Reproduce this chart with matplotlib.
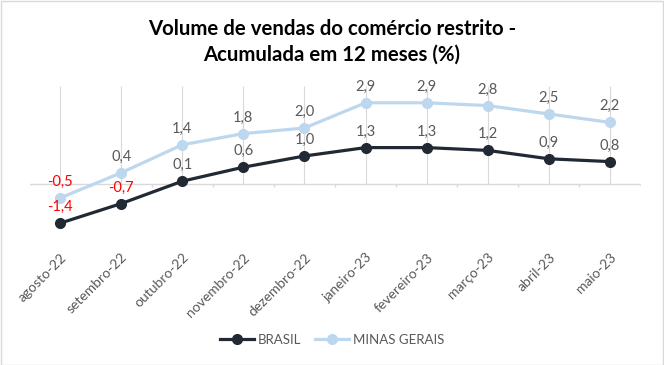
import numpy as np
import matplotlib
matplotlib.use("Agg")
import matplotlib.pyplot as plt
from matplotlib.patches import Rectangle

# dados
meses = ["agosto-22", "setembro-22", "outubro-22", "novembro-22", "dezembro-22",
         "janeiro-23", "fevereiro-23", "março-23", "abril-23", "maio-23"]
brasil = [-1.4, -0.7, 0.1, 0.6, 1.0, 1.3, 1.3, 1.2, 0.9, 0.8]
minas = [-0.5, 0.4, 1.4, 1.8, 2.0, 2.9, 2.9, 2.8, 2.5, 2.2]

plt.rcParams['font.family'] = ['Lato', 'DejaVu Sans']

c_br = "#212934"
c_mg = "#bdd7ee"
c_txt = "#595959"
c_grid = "#d9d9d9"

fig = plt.figure(figsize=(6.64, 3.65), dpi=100)
ax = fig.add_axes([29.5 / 664, 1 - 240 / 365, 611 / 664, 154 / 365])
x = np.arange(len(meses))

ax.set_xlim(-0.5, len(meses) - 0.5)
ax.set_ylim(-2.0, 3.5)

# grade vertical e eixo zero
ax.vlines(x, 0, 3.5, color=c_grid, lw=0.8, zorder=0)
ax.axhline(0, color=c_grid, lw=1.0, zorder=0)
ax.vlines(np.arange(len(meses) + 1) - 0.5, -0.1, 0, color=c_grid, lw=1.0, zorder=0)

ax.plot(x, brasil, color=c_br, lw=2.3, marker="o", ms=7, label="BRASIL", zorder=3)
ax.plot(x, minas, color=c_mg, lw=2.3, marker="o", ms=7, label="MINAS GERAIS", zorder=2)

def rotulos(vals):
    for i, v in enumerate(vals):
        cor = "#ff0000" if v < 0 else c_txt
        txt = "{:.1f}".format(v).replace(".", ",")
        ax.annotate(txt, (i, v), xytext=(0, 6.5), textcoords="offset points",
                    ha="center", va="bottom", fontsize=10.5, color=cor)

rotulos(brasil)
rotulos(minas)

for s in ax.spines.values():
    s.set_visible(False)
ax.set_yticks([])
ax.set_xticks(x)
ax.set_xticklabels(meses, rotation=45, ha="right", rotation_mode="anchor",
                   fontsize=10, color=c_txt)
ax.tick_params(axis="x", length=0, pad=8)

fig.text(0.5, 1 - 19 / 365, "Volume de vendas do comércio restrito -\nAcumulada em 12 meses (%)",
         ha="center", va="top", fontsize=14.7, fontweight="bold", linespacing=1.35)

leg = fig.legend(loc="center", bbox_to_anchor=(0.5, 1 - 340 / 365), ncol=2, frameon=False,
                 fontsize=9.5, handlelength=2.6, columnspacing=1.0, handletextpad=0.3)
for t in leg.get_texts():
    t.set_color(c_txt)

fig.patches.append(Rectangle((0.5 / 664, 0.5 / 365), 1 - 1.5 / 664, 1 - 1.5 / 365,
                             transform=fig.transFigure, fill=False, edgecolor=c_grid, lw=1))

fig.savefig("out.png", dpi=100)
